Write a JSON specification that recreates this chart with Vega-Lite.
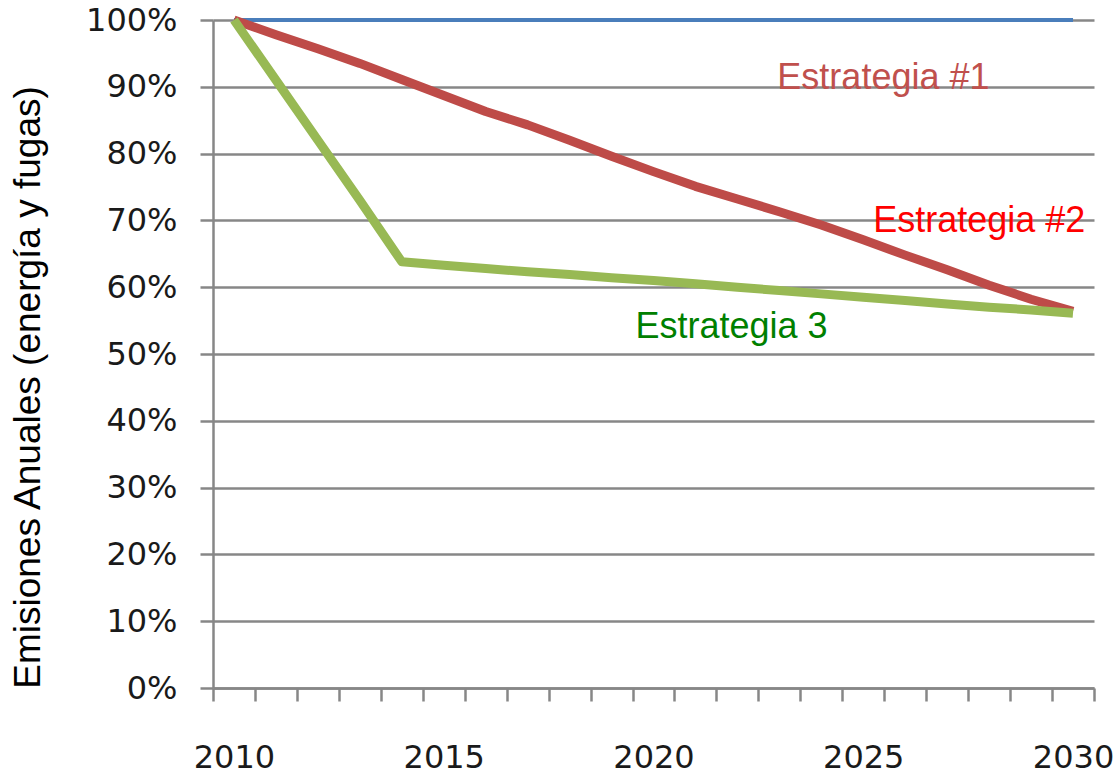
{
  "$schema": "https://vega.github.io/schema/vega-lite/v6.json",
  "autosize": "none",
  "width": 881,
  "height": 668,
  "padding": {"left": 213, "top": 20, "right": 24, "bottom": 86},
  "background": "white",
  "config": {
    "view": {"stroke": null},
    "axis": {
      "domainColor": "#878787",
      "domainWidth": 2.5,
      "tickColor": "#878787",
      "tickWidth": 2.5,
      "tickSize": 13,
      "gridColor": "#878787",
      "gridWidth": 2.5,
      "labelFont": "DejaVu Sans",
      "labelFontSize": 32,
      "labelColor": "#1a1a1a"
    }
  },
  "datasets": {
    "series": [
      {"year": 2010, "serie": "Estrategia #1", "value": 1.0},
      {"year": 2011, "serie": "Estrategia #1", "value": 1.0},
      {"year": 2012, "serie": "Estrategia #1", "value": 1.0},
      {"year": 2013, "serie": "Estrategia #1", "value": 1.0},
      {"year": 2014, "serie": "Estrategia #1", "value": 1.0},
      {"year": 2015, "serie": "Estrategia #1", "value": 1.0},
      {"year": 2016, "serie": "Estrategia #1", "value": 1.0},
      {"year": 2017, "serie": "Estrategia #1", "value": 1.0},
      {"year": 2018, "serie": "Estrategia #1", "value": 1.0},
      {"year": 2019, "serie": "Estrategia #1", "value": 1.0},
      {"year": 2020, "serie": "Estrategia #1", "value": 1.0},
      {"year": 2021, "serie": "Estrategia #1", "value": 1.0},
      {"year": 2022, "serie": "Estrategia #1", "value": 1.0},
      {"year": 2023, "serie": "Estrategia #1", "value": 1.0},
      {"year": 2024, "serie": "Estrategia #1", "value": 1.0},
      {"year": 2025, "serie": "Estrategia #1", "value": 1.0},
      {"year": 2026, "serie": "Estrategia #1", "value": 1.0},
      {"year": 2027, "serie": "Estrategia #1", "value": 1.0},
      {"year": 2028, "serie": "Estrategia #1", "value": 1.0},
      {"year": 2029, "serie": "Estrategia #1", "value": 1.0},
      {"year": 2030, "serie": "Estrategia #1", "value": 1.0},
      {"year": 2010, "serie": "Estrategia #2", "value": 1.0},
      {"year": 2011, "serie": "Estrategia #2", "value": 0.978},
      {"year": 2012, "serie": "Estrategia #2", "value": 0.957},
      {"year": 2013, "serie": "Estrategia #2", "value": 0.935},
      {"year": 2014, "serie": "Estrategia #2", "value": 0.911},
      {"year": 2015, "serie": "Estrategia #2", "value": 0.887},
      {"year": 2016, "serie": "Estrategia #2", "value": 0.863},
      {"year": 2017, "serie": "Estrategia #2", "value": 0.843},
      {"year": 2018, "serie": "Estrategia #2", "value": 0.820},
      {"year": 2019, "serie": "Estrategia #2", "value": 0.796},
      {"year": 2020, "serie": "Estrategia #2", "value": 0.773},
      {"year": 2021, "serie": "Estrategia #2", "value": 0.751},
      {"year": 2022, "serie": "Estrategia #2", "value": 0.732},
      {"year": 2023, "serie": "Estrategia #2", "value": 0.713},
      {"year": 2024, "serie": "Estrategia #2", "value": 0.693},
      {"year": 2025, "serie": "Estrategia #2", "value": 0.671},
      {"year": 2026, "serie": "Estrategia #2", "value": 0.648},
      {"year": 2027, "serie": "Estrategia #2", "value": 0.626},
      {"year": 2028, "serie": "Estrategia #2", "value": 0.603},
      {"year": 2029, "serie": "Estrategia #2", "value": 0.582},
      {"year": 2030, "serie": "Estrategia #2", "value": 0.564},
      {"year": 2010, "serie": "Estrategia 3", "value": 1.0},
      {"year": 2011, "serie": "Estrategia 3", "value": 0.910},
      {"year": 2012, "serie": "Estrategia 3", "value": 0.820},
      {"year": 2013, "serie": "Estrategia 3", "value": 0.730},
      {"year": 2014, "serie": "Estrategia 3", "value": 0.638},
      {"year": 2015, "serie": "Estrategia 3", "value": 0.633},
      {"year": 2016, "serie": "Estrategia 3", "value": 0.628},
      {"year": 2017, "serie": "Estrategia 3", "value": 0.623},
      {"year": 2018, "serie": "Estrategia 3", "value": 0.619},
      {"year": 2019, "serie": "Estrategia 3", "value": 0.614},
      {"year": 2020, "serie": "Estrategia 3", "value": 0.610},
      {"year": 2021, "serie": "Estrategia 3", "value": 0.605},
      {"year": 2022, "serie": "Estrategia 3", "value": 0.600},
      {"year": 2023, "serie": "Estrategia 3", "value": 0.595},
      {"year": 2024, "serie": "Estrategia 3", "value": 0.590},
      {"year": 2025, "serie": "Estrategia 3", "value": 0.585},
      {"year": 2026, "serie": "Estrategia 3", "value": 0.580},
      {"year": 2027, "serie": "Estrategia 3", "value": 0.575},
      {"year": 2028, "serie": "Estrategia 3", "value": 0.570},
      {"year": 2029, "serie": "Estrategia 3", "value": 0.566},
      {"year": 2030, "serie": "Estrategia 3", "value": 0.561}
    ]
  },
  "layer": [
    {
      "data": {"name": "series"},
      "transform": [{"filter": "datum.serie === 'Estrategia #1'"}],
      "mark": {"type": "line", "strokeJoin": "round", "strokeWidth": 4, "color": "#4a7ebb"},
      "encoding": {
        "x": {
          "field": "year",
          "type": "ordinal",
          "bandPosition": 0.5,
          "scale": {"type": "band", "paddingInner": 0, "paddingOuter": 0},
          "axis": {
            "title": null,
            "labelAngle": 0,
            "tickBand": "extent",
            "labelPadding": 41,
            "labelExpr": "datum.value % 5 === 0 ? datum.label : ''",
            "grid": false
          }
        },
        "y": {
          "field": "value",
          "type": "quantitative",
          "scale": {"domain": [0, 1], "nice": false},
          "axis": {
            "values": [0, 0.1, 0.2, 0.3, 0.4, 0.5, 0.6, 0.7, 0.8, 0.9, 1.0],
            "format": ".0%",
            "grid": true,
            "labelPadding": 23,
            "title": "Emisiones Anuales (energía y fugas)",
            "titleFont": "Liberation Sans",
            "titleFontSize": 37,
            "titleFontWeight": "normal",
            "titleColor": "#000000",
            "titleAngle": -90,
            "titleAlign": "center",
            "titleBaseline": "middle",
            "titleX": -185,
            "titleY": 367
          }
        }
      }
    },
    {
      "data": {"name": "series"},
      "transform": [{"filter": "datum.serie === 'Estrategia #2'"}],
      "mark": {"type": "line", "strokeJoin": "round", "strokeWidth": 9, "color": "#be4b48"},
      "encoding": {
        "x": {"field": "year", "type": "ordinal", "bandPosition": 0.5},
        "y": {"field": "value", "type": "quantitative"}
      }
    },
    {
      "data": {"name": "series"},
      "transform": [{"filter": "datum.serie === 'Estrategia 3'"}],
      "mark": {"type": "line", "strokeJoin": "round", "strokeWidth": 9, "color": "#98b954"},
      "encoding": {
        "x": {"field": "year", "type": "ordinal", "bandPosition": 0.5},
        "y": {"field": "value", "type": "quantitative"}
      }
    },
    {
      "data": {"values": [{"year": 2023, "value": 0.896, "label": "Estrategia #1"}]},
      "mark": {"type": "text", "align": "left", "baseline": "alphabetic", "dx": -2, "font": "Liberation Sans", "fontSize": 36, "color": "#c0504d"},
      "encoding": {
        "x": {"field": "year", "type": "ordinal", "bandPosition": 0.5},
        "y": {"field": "value", "type": "quantitative"},
        "text": {"field": "label"}
      }
    },
    {
      "data": {"values": [{"year": 2025, "value": 0.683, "label": "Estrategia #2"}]},
      "mark": {"type": "text", "align": "left", "baseline": "alphabetic", "dx": 10, "font": "Liberation Sans", "fontSize": 36, "color": "#ff0000"},
      "encoding": {
        "x": {"field": "year", "type": "ordinal", "bandPosition": 0.5},
        "y": {"field": "value", "type": "quantitative"},
        "text": {"field": "label"}
      }
    },
    {
      "data": {"values": [{"year": 2020, "value": 0.5235, "label": "Estrategia 3"}]},
      "mark": {"type": "text", "align": "left", "baseline": "alphabetic", "dx": -18, "font": "Liberation Sans", "fontSize": 36, "color": "#008000"},
      "encoding": {
        "x": {"field": "year", "type": "ordinal", "bandPosition": 0.5},
        "y": {"field": "value", "type": "quantitative"},
        "text": {"field": "label"}
      }
    }
  ]
}
